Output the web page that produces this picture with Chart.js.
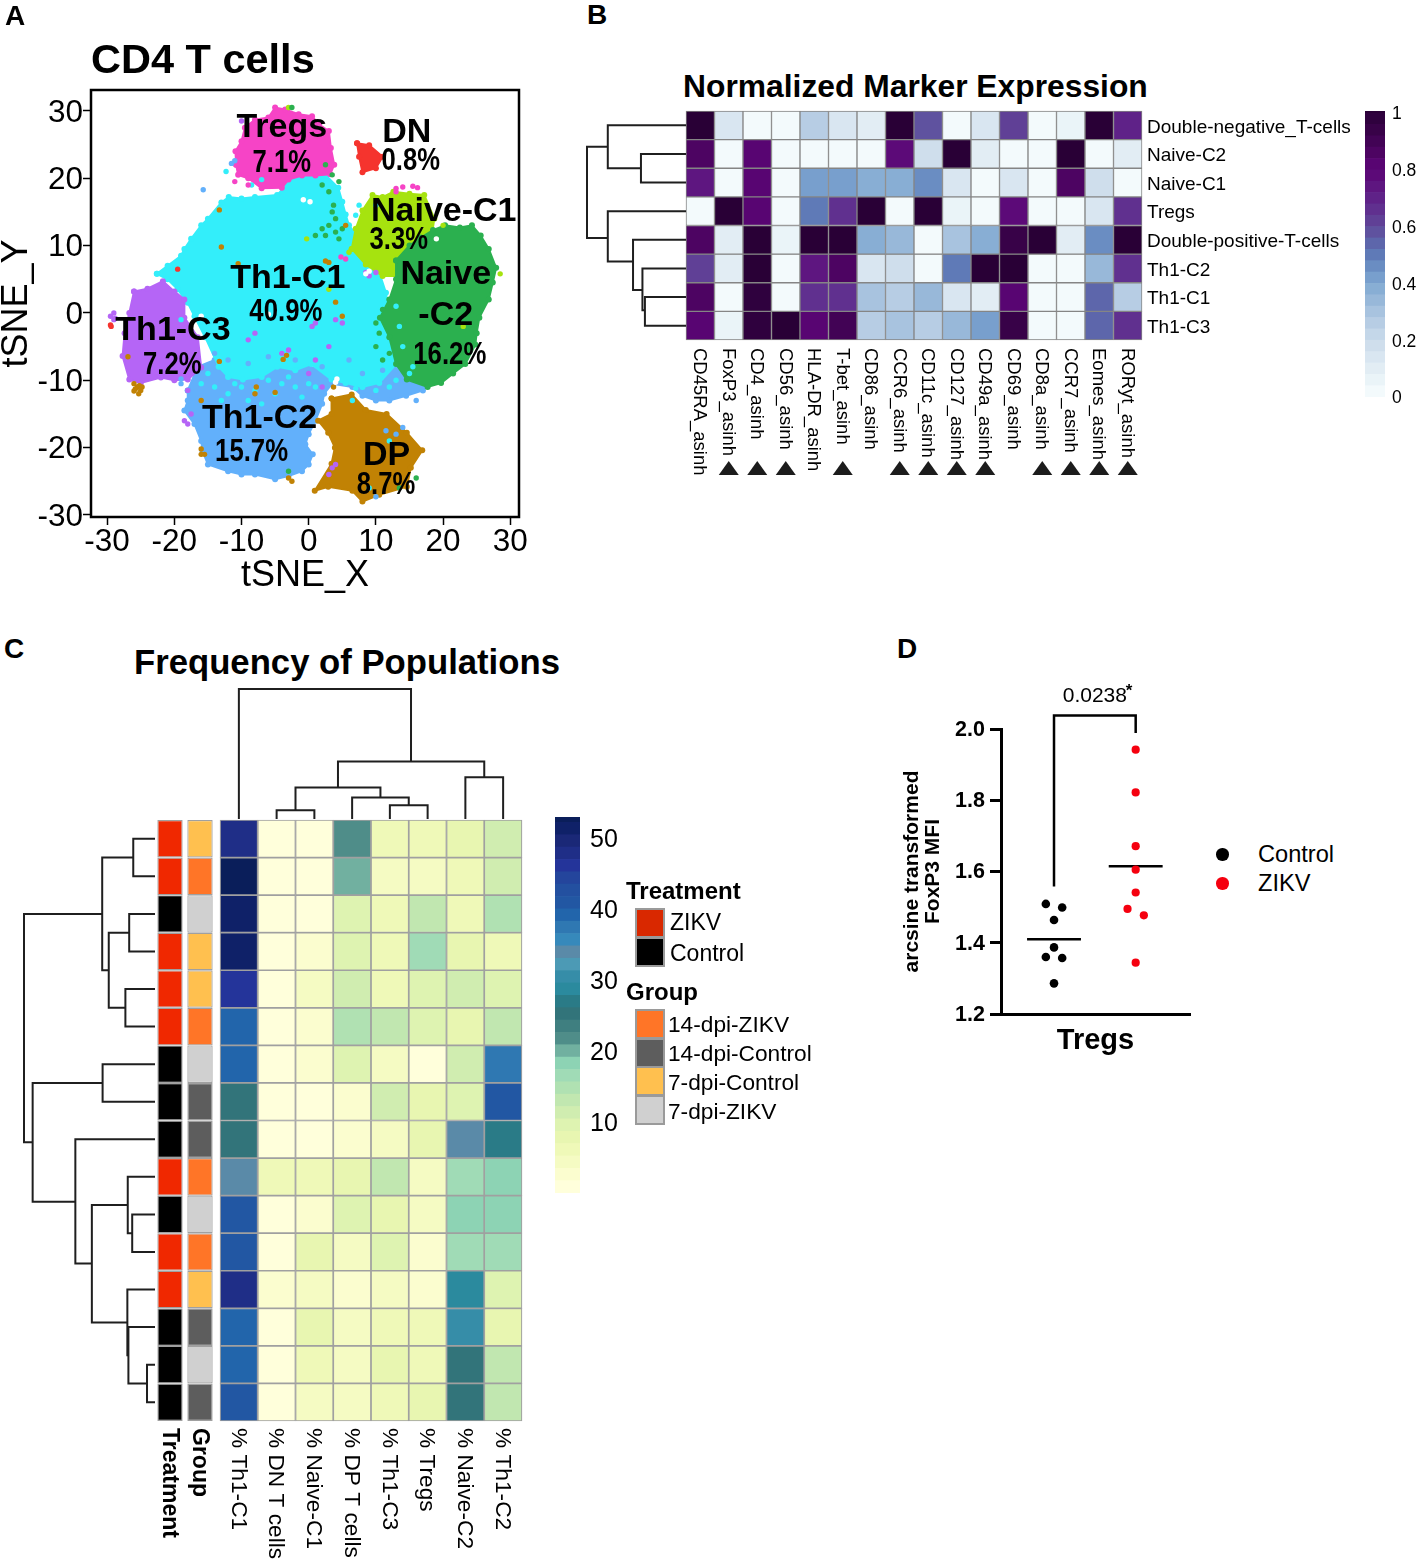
<!DOCTYPE html>
<html>
<head>
<meta charset="utf-8">
<title>CD4 T cells</title>
<script src="https://cdn.jsdelivr.net/npm/chart.js@4/dist/chart.umd.min.js"></script>
<style>
  html, body { margin: 0; background: #fff; }
  #page { position: relative; width: 1417px; height: 1559px; overflow: hidden; font-family: "Liberation Sans", Arial, sans-serif; color: #000; }
  .txt { position: absolute; white-space: nowrap; line-height: 1; transform: translateY(-50%); }
  .swatch { position: absolute; box-sizing: border-box; border: 2px solid #9a9a9a; }
  .dot { position: absolute; border-radius: 50%; }
</style>
</head>
<body>
<div id="page"></div>
<script>
/* ---------- Panel A: tSNE clusters (outlines and stray cells) ---------- */
const tsneTicks = [-30, -20, -10, 0, 10, 20, 30];
const blueOutline = [[-18,-11.5],[-16.5,-8],[-14,-7],[-5,-7],[5,-9],[12,-7],[15.5,-7],[18,-10],[17,-11.5],[14.5,-12.3],[12,-13],[10,-13],[8,-12.3],[6.5,-11],[3.5,-10.5],[2.3,-12],[2,-13.5],[1,-16],[0,-18],[-0.5,-19.5],[0.6,-21],[0,-22.5],[-1,-23.5],[-3,-24.2],[-5,-24.7],[-8,-24],[-10,-24],[-12,-23.5],[-15,-22.5],[-15.8,-20.5],[-16,-19],[-17,-16.5],[-18.5,-14.5],[-18,-13]];
const cyanOutline = [[-22.6,5.8],[-21,7],[-19,8.5],[-18.5,9.5],[-17.5,11],[-16,13],[-15,14],[-13,16.4],[-11.9,17.2],[-10,17],[-8,17.2],[-4.7,17.5],[-3.8,18.5],[-3.2,19.8],[-1,20.2],[2.4,20.6],[4.4,18.6],[5,16.5],[5.5,14.6],[6,13],[7.5,11],[8.5,9],[10.5,6],[11.5,3],[12,-1],[12,-3],[13,-7.6],[10.5,-10.4],[8,-11],[5.5,-10.4],[3.4,-9.9],[0.4,-7.6],[-2,-8.5],[-4.7,-8],[-7,-9.5],[-9.8,-9.9],[-12,-9.5],[-13.4,-8],[-15.4,-3.6],[-17,-0.5],[-18,1.5],[-19.5,3.5],[-21,5]];
const purpleOutline = [[-26,3.2],[-24,3.6],[-21.7,4.7],[-20,3.2],[-18.5,2],[-18.5,-0.7],[-16.5,-3.6],[-16,-8.1],[-18,-9.9],[-20,-10],[-22,-9.6],[-25,-10.4],[-26.7,-9.9],[-27.7,-6.4],[-27.4,-3],[-26.7,0]];
const limeOutline = [[6.4,9.5],[7,12.5],[8,15.2],[9.5,17.5],[11,17.2],[12.6,18],[15,17.7],[17.2,17.5],[18.7,14],[18,9.5],[14,5.5],[11,5.5],[8.5,7.2]];
const greenOutline = [[13,7.8],[15,10],[16.7,11.2],[18.5,12.3],[20.3,13],[22.5,12.7],[24.3,13],[25.6,11.5],[26.8,9.5],[27.9,6.7],[27.4,4.5],[26.8,2],[25.4,-0.7],[25,-3],[24.8,-4.7],[23.3,-7.6],[21.5,-9],[19.7,-10.4],[17.7,-11],[14.6,-9.9],[13,-7.6],[12,-3.6],[10.6,-0.7],[12,2],[13,5]];
const pinkOutline = [[-10.8,22],[-10.9,24],[-10,25.5],[-9.5,27.5],[-8,28.7],[-6,29],[-5,30.5],[-3.5,30.2],[-1.5,29.5],[0.5,29.2],[1.5,28],[3,27],[3.3,24.5],[3.8,22],[3.2,20.6],[1,20.4],[-1,20.4],[-3,19.8],[-4,18.6],[-7,18.5],[-9,20],[-10.5,20.5]];
const redOutline = [[7.2,25.2],[9,24.9],[11,23.2],[10,21.5],[8,20.9],[7.5,23.2]];
const brownOutline = [[3.4,-12.7],[6.4,-12.1],[8.5,-14.4],[11.6,-15],[14.6,-17.8],[16.9,-20.4],[15.2,-23],[14.6,-25.8],[10.5,-27],[8,-28],[6.5,-26.4],[2.9,-25.8],[0.9,-26.4],[3.4,-22.4],[3.9,-20],[2.9,-17.8],[1.4,-16],[3.4,-15]];
const brownStrays = [[-25.5,-11],[-25,-11.5],[-25.8,-11.3],[-25.2,-10.8],[-26,-10.5],[-25.3,-12],[-26,-11.6],[-24.8,-11],[-13,9.8],[-13.3,15.3],[-10.5,7.3],[-13.3,-7.2],[-3.8,-6.9],[-3.3,-6.3],[-5,-11.8],[-7.8,-11],[-8,-12],[-16,-20.2],[-15.5,-21],[-16,-21],[-2.5,-25],[-3,-24.5],[2.5,7.7],[3,7.5],[4,1.6],[5,-0.5],[5.5,13],[3.7,-11],[-16,-13],[-26.9,-6.5]];
const greenStrays = [[2.5,22],[3.5,20.5],[4.5,19.5],[3,18],[2,19],[3.5,15],[3,13],[2,12.5],[2.5,11.5],[4,12],[4.5,11],[4,14],[3.7,16],[1,11.5],[5,12.5],[-3,-23.5],[16,-24.5],[13.5,-26],[-2.5,30.5],[10,-5],[11,-7],[10.5,-3],[11,0.5],[10,-1.5],[12,-6]];
const pinkStrays = [[13,18.5],[14,18.7],[15.5,18.8],[16.2,18.6],[13,18],[4.8,8.3],[5.5,8],[-11,19.5],[-9,19]];
const purpleStrays = [[-29.5,-0.5],[-28.8,-0.8],[-29,0],[-29,-1],[4,-1],[5,-1.5],[0.5,-2],[1,-1.5],[-8,-3],[-9,-4],[-4,-6],[1,-7],[0,-9],[2,-11],[-18,-11.5],[-18.5,-16],[-17.5,-15],[-18,-16.5],[3,-24],[3.5,-23],[4,-22.5],[9,5.5],[10,6],[8.5,6],[-10,28.5],[3,-5],[-3,-5.5]];
const redStrays = [[-29.5,-1.8],[-29.4,-2],[-19.5,6.5]];
const blueStrays = [[-15.7,18.3],[-11.5,22.2],[-11,22.6],[14,-17],[13,-18],[11.5,-17.5],[16,-13],[-19,-9.8],[-19,-10.5],[10,-27.3],[6,-7],[-14,-6],[-12,-7],[-9,-7.5],[-6,-6.5],[-2,-7],[2,-8],[8,-9],[11,-8.5]];
const cyanStrays = [[-12.3,21],[-8.5,19],[-7,19.8],[7,14.5],[7.5,16],[10,16],[6.5,-13],[12,-19],[9,-26],[-12,-12],[-10,-11],[-8,-11.5],[-6,-10],[-4,-10.5],[-2,-11],[0,-10.5],[-14,-11],[-15,-9],[-16,-10.5],[-11,-10.5],[-9,-13],[-5,-12],[-1,-12.5],[-13,-13],[1,-11],[-3,-9.5],[-7,-13.5],[7,-11.2],[10,-11.5],[13,-10],[15,-9],[12,-11],[13,1],[13.5,-2],[14,-5],[15.5,-8],[-19,-1]];
const limeStrays = [[28.5,5.8],[-0.3,11],[3,3.5],[-3,30.5],[23,-2],[6,9],[20,13]];
const holeStrays = [[-0.8,16.8],[0.2,16.5],[19,11],[9,6.2],[8.5,5.8],[-16,-0.5],[-6,-0.2],[4.2,-9.8],[4,-10.3]];

const clusterNames = ["Tregs", "DN", "Naive-C1", "Naive", "-C2", "Th1-C1", "Th1-C3", "Th1-C2", "DP"];
const clusterNameAt = [[-4,27.6],[14.6,26.9],[20.1,15.2],[20.4,5.8],[20.4,-0.3],[-3.1,5.3],[-20.2,-2.5],[-7.3,-15.6],[11.6,-21.1]];
const clusterPct = ["7.1%", "0.8%", "3.3%", "16.2%", "40.9%", "7.2%", "15.7%", "8.7%"];
const clusterPctAt = [[-4,22.4],[15.2,22.7],[13.4,10.9],[21,-6.2],[-3.4,0.15],[-20.3,-7.7],[-8.5,-20.6],[11.5,-25.4]];

/* ---------- Panel B: normalized marker expression ---------- */
const markers = ["CD45RA_asinh","FoxP3_asinh","CD4_asinh","CD56_asinh","HLA-DR_asinh","T-bet_asinh","CD86_asinh","CCR6_asinh","CD11c_asinh","CD127_asinh","CD49a_asinh","CD69_asinh","CD8a_asinh","CCR7_asinh","Eomes_asinh","RORyt_asinh"];
const markedMarkers = ["FoxP3_asinh","CD4_asinh","CD56_asinh","T-bet_asinh","CCR6_asinh","CD11c_asinh","CD127_asinh","CD49a_asinh","CD8a_asinh","CCR7_asinh","Eomes_asinh","RORyt_asinh"];
const populations = ["Double-negative_T-cells","Naive-C2","Naive-C1","Tregs","Double-positive-T-cells","Th1-C2","Th1-C1","Th1-C3"];
const expression = [
  [1,.14,.01,.02,.24,.14,.1,1,.58,.02,.13,.62,.02,.05,1,.7],
  [.84,.01,.8,.01,.01,.01,.01,.78,.18,1,.1,.01,.01,1,.01,.1],
  [.72,.01,.8,.02,.4,.4,.38,.36,.46,.12,.02,.12,.02,.84,.18,.02],
  [.01,1,.82,.02,.5,.66,1,.01,1,.05,.02,.76,.02,.02,.12,.64],
  [.84,.07,1,.06,1,1,.38,.34,.01,.3,.36,.92,1,.1,.44,1],
  [.6,.07,1,.02,.72,.84,.14,.18,.02,.5,1,1,.02,.02,.34,.66],
  [.84,.01,.96,.01,.66,.66,.3,.24,.32,.13,.09,.8,.02,.02,.54,.26],
  [.8,.03,.96,1,.8,.88,.26,.28,.24,.32,.42,.94,.02,.02,.54,.64]
];
const expressionPalette = ["#f3fafc","#eaf4f8","#e2edf4","#d9e6f1","#cfdeec","#c4d7e9","#b7cde4","#a8c3df","#98b8d9","#88aed4","#789fcd","#6a8dc2","#5f7ab7","#5d66ab","#5f529f","#604096","#60308f","#5f2288","#5e1680","#5c0a78","#580572","#4d0462","#420355","#380248","#2f013e","#290036"];
const expressionStep = 0.04;
const expressionTicks = [0, 0.2, 0.4, 0.6, 0.8, 1];
// merge: [height, row a, height of a, row b, height of b]
const markerDendro = [[.415,6,0,7,0],[.44,5,0,6.46,.415],[.535,4,0,5.75,.44],[.79,3,0,4.76,.535],[.455,1,0,2,0],[.79,0,0,1.5,.455],[1,.75,.79,3.94,.79]];

/* ---------- Panel C: frequency of populations ---------- */
const freqColumns = ["% Th1-C1","% DN T cells","% Naive-C1","% DP T cells","% Th1-C3","% Tregs","% Naive-C2","% Th1-C2"];
const frequency = [
  [47.9,.8,.8,21.8,6,6,7.8,11.3],
  [53,.8,.8,20,4.4,4.4,6,11.3],
  [51,.8,.8,9.5,6,13,6,14.8],
  [51,.8,2.6,9.5,6,16.5,7.8,6],
  [46,.8,4.4,11.3,6,9.5,11.3,9.5],
  [39,.8,2.6,14.8,13,9.5,7.8,13],
  [39,.8,2.6,9.5,4.4,.8,11.3,37],
  [25,.8,.8,2.6,11.3,7.8,9.5,41],
  [25,.8,.8,2.6,4.4,7.8,33.5,26.5],
  [33.5,6,6,7.8,13,4.4,16.5,18.2],
  [41,.8,2.6,9.5,7.8,4.4,18.2,18.2],
  [41,.8,7.8,4.4,9.5,2.6,16.5,16.5],
  [47.9,2.6,4.4,2.6,4.4,2.6,29,9.5],
  [39,.8,7.8,4.4,6,6,30,7.8],
  [39,.8,6,4.4,7.8,6,25,13],
  [41,.8,4.4,4.4,6,7.8,25,13]
];
const freqPalette = ["#ffffdb","#fbfdcf","#f5fbc3","#eff9b8","#e8f6b1","#def3b1","#d0edb0","#c1e7b0","#b0e1b2","#a0dbb6","#8dd3b4","#71b0a0","#4f8d89","#3f7f80","#32747a","#2a7b87","#2b8a9e","#368da8","#4c9ab5","#5a8aa8","#3689bb","#2f78b2","#2265ab","#2257a3","#2350a0","#24459c","#24349a","#1f2e87","#1a2877","#0f2168","#0a1e5a"];
const freqStep = 1.74;
const freqTicks = [10, 20, 30, 40, 50];
const treatmentColors = { ZIKV: "#f02800", Control: "#000000" };
const groupColors = { "14-dpi-ZIKV": "#ff7527", "14-dpi-Control": "#5d5d5d", "7-dpi-Control": "#ffc04f", "7-dpi-ZIKV": "#d0d0d0" };
const treatmentRows = ["ZIKV","ZIKV","Control","ZIKV","ZIKV","ZIKV","Control","Control","Control","ZIKV","Control","ZIKV","ZIKV","Control","Control","Control"];
const groupRows = ["7-dpi-Control","14-dpi-ZIKV","7-dpi-ZIKV","7-dpi-Control","7-dpi-Control","14-dpi-ZIKV","7-dpi-ZIKV","14-dpi-Control","14-dpi-Control","14-dpi-ZIKV","7-dpi-ZIKV","14-dpi-ZIKV","7-dpi-Control","14-dpi-Control","7-dpi-ZIKV","14-dpi-Control"];
const columnDendro = [[.0665,1,0,2,0],[.105,4,0,5,0],[.166,3,0,4.5,.105],[.243,1.5,.0665,3.75,.166],[.322,6,0,7,0],[.442,2.625,.243,6.5,.322],[1,0,0,4.56,.442]];
const rowDendro = [[.166,0,0,1,0],[.197,2,0,3,0],[.226,4,0,5,0],[.353,2.5,.197,4.5,.226],[.403,.5,.166,3.5,.353],[.4,6,0,7,0],[.174,10,0,11,0],[.208,9,0,10.5,.174],[.061,14,0,15,0],[.203,13,0,14.5,.061],[.211,12,0,13.75,.203],[.482,9.75,.208,12.875,.211],[.608,8,0,11.31,.482],[.934,6.5,.4,9.66,.608],[1,2,.403,8.08,.934]];

/* ---------- Panel D: FoxP3 MFI in Tregs ---------- */
const controlX = [.9,1.1,1,1,.9,1.1,1];
const controlMfi = [1.509,1.499,1.464,1.387,1.360,1.357,1.286];
const zikvX = [2,2,2,2,2,1.9,2.1,2];
const zikvMfi = [1.942,1.822,1.671,1.605,1.541,1.495,1.477,1.344];
const controlMean = 1.41;
const zikvMean = 1.615;
const mfiTicks = [1.2, 1.4, 1.6, 1.8, 2.0];
const pValue = "0.0238";

/* ---------- helpers ---------- */
const FONT = '"Liberation Sans", Arial, sans-serif';
Chart.defaults.font.family = FONT;
Chart.defaults.color = "#000";
Chart.defaults.animation = false;
Chart.defaults.plugins.legend.display = false;
Chart.defaults.plugins.tooltip.enabled = false;

const page = document.getElementById("page");

function addCanvas(x, y, w, h) {
    const c = document.createElement("canvas");
    c.width = w;
    c.height = h;
    c.style.cssText = `position:absolute;left:${x}px;top:${y}px;width:${w}px;height:${h}px`;
    page.appendChild(c);
    return c;
}

function text(x, y, str, size, bold) {
    const d = document.createElement("div");
    d.className = "txt";
    d.textContent = str;
    d.style.cssText = `left:${x}px;top:${y}px;font-size:${size}px;font-weight:${bold ? "bold" : "normal"}`;
    page.appendChild(d);
}

function swatch(x, y, w, h, color) {
    const d = document.createElement("div");
    d.className = "swatch";
    d.style.cssText = `left:${x}px;top:${y}px;width:${w}px;height:${h}px;background:${color}`;
    page.appendChild(d);
}

function pts(list) {
    return list.map(p => ({ x: p[0], y: p[1] }));
}

// one dataset per row, every cell is one unit tall and painted from its value
function heatDatasets(matrix, colorOf, edge, lineWidth) {
    return matrix.map(row => ({
        data: row.map(() => 1),
        backgroundColor: row.map(colorOf),
        borderColor: edge,
        borderWidth: lineWidth,
        borderSkipped: false,
        barPercentage: 1,
        categoryPercentage: 1,
        clip: false
    }));
}

function rotatedLabels(labels, gap, size, weight) {
    return {
        id: "rotatedLabels",
        afterDraw(chart) {
            const ctx = chart.ctx;
            const s = chart.scales.x;
            labels.forEach((t, i) => {
                ctx.save();
                ctx.translate(s.getPixelForValue(i) - 1, chart.chartArea.bottom + gap);
                ctx.rotate(Math.PI / 2);
                ctx.font = `${weight} ${size}px ${FONT}`;
                ctx.fillStyle = "#000";
                ctx.textAlign = "left";
                ctx.textBaseline = "middle";
                ctx.fillText(t, 0, 0);
                ctx.restore();
            });
        }
    };
}

function heatChart(canvas, padding, labels, datasets, rows, extra) {
    return new Chart(canvas, {
        type: "bar",
        data: { labels: labels, datasets: datasets },
        options: {
            responsive: false,
            layout: { autoPadding: false, padding: padding },
            scales: {
                x: { stacked: true, display: false },
                y: { stacked: true, display: false, reverse: true, min: 0, max: rows }
            }
        },
        plugins: extra
    });
}

function dendroChart(canvas, pad, merges, count, leftSide) {
    const lo = -0.5, hi = count - 0.5;
    const datasets = merges.map(m => {
        const path = [[m[2], m[1]], [m[0], m[1]], [m[0], m[3]], [m[4], m[3]]];
        return {
            data: path.map(p => leftSide ? { x: p[0], y: p[1] } : { x: p[1], y: p[0] }),
            showLine: true,
            borderColor: "#1f1f1f",
            borderWidth: 2,
            pointRadius: 0,
            tension: 0,
            clip: false
        };
    });
    return new Chart(canvas, {
        type: "scatter",
        data: { datasets: datasets },
        options: {
            responsive: false,
            layout: { autoPadding: false, padding: pad },
            scales: leftSide ? {
                x: { type: "linear", display: false, min: 0, max: 1, reverse: true },
                y: { type: "linear", display: false, min: lo, max: hi, reverse: true }
            } : {
                x: { type: "linear", display: false, min: lo, max: hi },
                y: { type: "linear", display: false, min: 0, max: 1 }
            }
        }
    });
}

function colorBar(canvas, padLeft, palette, step, top, ticks, fontSize, axisWidth, tickPad, labelShift) {
    const datasets = palette.map((c, i) => ({
        data: [[i * step, (i + 1) * step]],
        backgroundColor: c,
        borderWidth: 0,
        barPercentage: 1,
        categoryPercentage: 1
    }));
    return new Chart(canvas, {
        type: "bar",
        data: { labels: [""], datasets: datasets },
        options: {
            responsive: false,
            layout: { autoPadding: false, padding: { left: padLeft, top: 30, bottom: 30 } },
            scales: {
                x: { stacked: true, display: false },
                y: {
                    position: "right", min: 0, max: top,
                    afterFit(a) { a.width = axisWidth; },
                    afterBuildTicks(a) { a.ticks = ticks.map(v => ({ value: v })); },
                    grid: { display: false, drawTicks: false },
                    border: { display: false },
                    ticks: { font: { size: fontSize }, padding: tickPad, labelOffset: labelShift, callback: v => String(v) }
                }
            }
        }
    });
}

/* ---------- Panel A ---------- */
const clusterLayers = [
    { outline: blueOutline, color: "#62b0fb" },
    { outline: cyanOutline, color: "#33eefa" },
    { outline: purpleOutline, color: "#b565f6" },
    { outline: limeOutline, color: "#a6e30f" },
    { outline: greenOutline, color: "#2bb04f" },
    { outline: pinkOutline, color: "#f644c6" },
    { outline: redOutline, color: "#f5342e" },
    { outline: brownOutline, color: "#c18204" }
];
const strayLayers = [
    { list: cyanStrays, color: "#33eefa" },
    { list: blueStrays, color: "#62b0fb" },
    { list: limeStrays, color: "#a6e30f" },
    { list: greenStrays, color: "#2bb04f" },
    { list: pinkStrays, color: "#f644c6" },
    { list: purpleStrays, color: "#b565f6" },
    { list: brownStrays, color: "#c18204" },
    { list: redStrays, color: "#f5342e" },
    { list: holeStrays, color: "#ffffff" }
];
// order: higher number is painted first
const tsneDatasets = clusterLayers.map((l, i) => ({
    data: pts(l.outline.concat([l.outline[0]])),
    showLine: true,
    fill: "shape",
    tension: 0,
    backgroundColor: l.color,
    borderColor: l.color,
    borderWidth: 2,
    pointBackgroundColor: l.color,
    pointBorderWidth: 0,
    pointRadius: 3,
    order: 100 - i
})).concat(strayLayers.map((l, i) => ({
    data: pts(l.list),
    backgroundColor: l.color,
    pointBorderWidth: 0,
    pointRadius: 2.7,
    order: 50 - i
})));

const clusterLabels = {
    id: "clusterLabels",
    afterDatasetsDraw(chart) {
        const { ctx, chartArea: a, scales: { x, y } } = chart;
        ctx.save();
        ctx.strokeStyle = "#000";
        ctx.lineWidth = 2.5;
        ctx.strokeRect(a.left, a.top, a.right - a.left, a.bottom - a.top);
        ctx.fillStyle = "#000";
        ctx.textAlign = "center";
        ctx.textBaseline = "middle";
        ctx.font = `bold 34px ${FONT}`;
        clusterNames.forEach((t, i) => {
            ctx.fillText(t, x.getPixelForValue(clusterNameAt[i][0]), y.getPixelForValue(clusterNameAt[i][1]) + 1);
        });
        ctx.font = `bold 31px ${FONT}`;
        clusterPct.forEach((t, i) => {
            // the percentages are squeezed horizontally in the figure
            ctx.fillText(t, x.getPixelForValue(clusterPctAt[i][0]), y.getPixelForValue(clusterPctAt[i][1]) + 1, t.length * 14.6);
        });
        ctx.restore();
    }
};

new Chart(addCanvas(-5, 0, 555, 600), {
    type: "scatter",
    data: { datasets: tsneDatasets },
    options: {
        responsive: false,
        layout: { autoPadding: false, padding: { right: 31 } },
        plugins: {
            title: {
                display: true, text: "CD4 T cells", align: "start", fullSize: false,
                font: { size: 41.5, weight: "bold" }, color: "#000",
                padding: { top: 37, bottom: 3.2 }
            }
        },
        scales: {
            x: {
                type: "linear", min: -32.4, max: 31.3,
                afterFit(a) { a.height = 83; },
                afterBuildTicks(a) { a.ticks = tsneTicks.map(v => ({ value: v })); },
                grid: { drawOnChartArea: false, tickLength: 8, tickColor: "#000", tickWidth: 1.5 },
                border: { color: "#000", width: 1 },
                ticks: { font: { size: 31.5 }, padding: -2, maxRotation: 0, autoSkip: false, callback: v => String(v) },
                title: { display: true, text: "tSNE_X", font: { size: 36 }, padding: { top: 0, bottom: 2 } }
            },
            y: {
                type: "linear", min: -30.3, max: 33.1,
                afterFit(a) { a.width = 96; },
                afterBuildTicks(a) { a.ticks = tsneTicks.map(v => ({ value: v })); },
                grid: { drawOnChartArea: false, tickLength: 8, tickColor: "#000", tickWidth: 1.5 },
                border: { color: "#000", width: 1 },
                ticks: { font: { size: 31.5 }, padding: 0, labelOffset: 2, autoSkip: false, callback: v => String(v) },
                title: { display: true, text: "tSNE_Y", font: { size: 36 }, padding: { top: 0, bottom: 0 } }
            }
        }
    },
    plugins: [clusterLabels]
});

/* ---------- Panel B ---------- */
const expressionColor = v => expressionPalette[Math.min(Math.floor(v / expressionStep + 0.3), expressionPalette.length - 1)];

const populationLabels = {
    id: "populationLabels",
    afterDraw(chart) {
        const { ctx, chartArea: a, scales: { x, y } } = chart;
        ctx.save();
        ctx.fillStyle = "#000";
        ctx.font = `19px ${FONT}`;
        ctx.textAlign = "left";
        ctx.textBaseline = "middle";
        populations.forEach((t, i) => ctx.fillText(t, a.right + 5, y.getPixelForValue(i + 0.5) + 2));
        ctx.fillStyle = "#1c1c1c";
        markedMarkers.forEach(m => {
            const px = x.getPixelForValue(markers.indexOf(m));
            ctx.beginPath();
            ctx.moveTo(px - 10, a.bottom + 135);
            ctx.lineTo(px + 10, a.bottom + 135);
            ctx.lineTo(px, a.bottom + 121);
            ctx.closePath();
            ctx.fill();
        });
        ctx.restore();
    }
};

heatChart(
    addCanvas(680, 105, 680, 375),
    { left: 6, top: 6, right: 218, bottom: 140 },
    markers,
    heatDatasets(expression, expressionColor, "#858585", 1),
    populations.length,
    [rotatedLabels(markers, 8, 18.5, "normal"), populationLabels]
);
text(683, 87, "Normalized Marker Expression", 31.8, true);
dendroChart(addCanvas(584, 108, 102, 235), { left: 3, top: 3, bottom: 3 }, markerDendro, populations.length, true);
colorBar(addCanvas(1350, 81, 67, 346), 15, expressionPalette, expressionStep, 1.007, expressionTicks, 17.5, 32, 7, 1.5);

/* ---------- Panel C ---------- */
const freqColor = v => freqPalette[Math.min(Math.floor(v / freqStep), freqPalette.length - 1)];

heatChart(
    addCanvas(216, 816, 310, 743),
    { left: 4, right: 4, top: 4, bottom: 138 },
    freqColumns,
    heatDatasets(frequency, freqColor, "#a0a0a0", 1.2),
    frequency.length,
    [rotatedLabels(freqColumns, 7, 22.7, "normal")]
);

// Treatment / Group annotation strips: two columns of the same kind of stacked cells
const annotationLabels = ["Treatment", "Group"];
const annotationRows = treatmentRows.map((t, i) => [treatmentColors[t], groupColors[groupRows[i]]]);
heatChart(
    addCanvas(151, 816, 68, 743),
    { left: 4, right: 4, top: 4, bottom: 138 },
    annotationLabels,
    annotationRows.map(r => ({
        data: [1, 1],
        backgroundColor: r,
        borderColor: "#a0a0a0",
        borderWidth: 1.2,
        borderSkipped: false,
        barPercentage: 0.845,
        categoryPercentage: 1,
        clip: false
    })),
    frequency.length,
    [rotatedLabels(annotationLabels, 7, 23, "bold")]
);

dendroChart(addCanvas(219, 685, 304, 134), { left: 1, right: 1, top: 4 }, columnDendro, freqColumns.length, false);
dendroChart(addCanvas(21, 817, 134, 607), { left: 3, top: 3, bottom: 3 }, rowDendro, frequency.length, true);
colorBar(addCanvas(545, 787, 90, 436), 10, freqPalette, freqStep, 52.95, freqTicks, 25, 55, 10, 2.5);

text(134, 662, "Frequency of Populations", 34.7, true);

text(626, 891, "Treatment", 24, true);
swatch(635, 908, 30, 30, "#d92800");
swatch(635, 937, 30, 30, "#000000");
text(670, 922, "ZIKV", 23);
text(670, 953, "Control", 23);
text(626, 992, "Group", 24, true);
Object.keys(groupColors).forEach((g, i) => {
    swatch(635, 1009 + i * 28.7, 30, 30, groupColors[g]);
    text(668, 1024 + i * 29, g, 22.7);
});

/* ---------- Panel D ---------- */
const mfiNotes = {
    id: "mfiNotes",
    afterDraw(chart) {
        const { ctx, scales: { x, y } } = chart;
        const cx = x.getPixelForValue(1.5);
        const cy = y.getPixelForValue(2.092);
        ctx.save();
        ctx.fillStyle = "#000";
        ctx.font = `21px ${FONT}`;
        ctx.textAlign = "center";
        ctx.textBaseline = "middle";
        ctx.fillText(pValue, cx, cy);
        ctx.font = `bold 17px ${FONT}`;
        ctx.textAlign = "left";
        ctx.fillText("*", cx + 31, cy - 5);
        ctx.restore();
    }
};

new Chart(addCanvas(885, 680, 315, 380), {
    type: "scatter",
    data: {
        datasets: [
            { data: controlMfi.map((v, i) => ({ x: controlX[i], y: v })), backgroundColor: "#000", pointRadius: 4.3, pointBorderWidth: 0 },
            { data: zikvMfi.map((v, i) => ({ x: zikvX[i], y: v })), backgroundColor: "#f5000f", pointRadius: 4.1, pointBorderWidth: 0 },
            { data: [{ x: 0.67, y: controlMean }, { x: 1.33, y: controlMean }], showLine: true, borderColor: "#000", borderWidth: 2.5, pointRadius: 0 },
            { data: [{ x: 1.67, y: zikvMean }, { x: 2.33, y: zikvMean }], showLine: true, borderColor: "#000", borderWidth: 2.5, pointRadius: 0 },
            { data: [{ x: 1, y: 1.558 }, { x: 1, y: 2.038 }, { x: 2, y: 2.038 }, { x: 2, y: 1.989 }], showLine: true, borderColor: "#000", borderWidth: 2.5, pointRadius: 0, clip: false }
        ]
    },
    options: {
        responsive: false,
        layout: { autoPadding: false, padding: { right: 10, top: 49 } },
        scales: {
            x: {
                type: "linear", min: 0.351, max: 2.665,
                afterFit(a) { a.height = 46; },
                grid: { display: false },
                border: { color: "#000", width: 3 },
                ticks: { display: false },
                title: { display: true, text: "Tregs", font: { size: 29, weight: "bold" }, padding: { top: 0, bottom: 2 } }
            },
            y: {
                type: "linear", min: 1.2, max: 2.0,
                afterFit(a) { a.width = 116; },
                afterBuildTicks(a) { a.ticks = mfiTicks.map(v => ({ value: v })); },
                grid: { drawOnChartArea: false, tickLength: 11, tickColor: "#000", tickWidth: 3 },
                border: { color: "#000", width: 3 },
                ticks: { font: { size: 21.5, weight: "bold" }, padding: 5, labelOffset: 1, callback: v => v.toFixed(1) },
                title: {
                    display: true, text: ["arcsine transformed", "FoxP3 MFI"],
                    font: { size: 21, weight: "bold", lineHeight: 1.03 }, padding: { top: 16, bottom: 0 }
                }
            }
        }
    },
    plugins: [mfiNotes]
});
[["Control", "#000", 854], ["ZIKV", "#f5000f", 883]].forEach(e => {
    const d = document.createElement("div");
    d.className = "dot";
    d.style.cssText = `left:1216px;top:${e[2] - 6}px;width:12.5px;height:12.5px;background:${e[1]}`;
    page.appendChild(d);
    text(1258, e[2] + 1, e[0], 23.6);
});

/* ---------- panel letters ---------- */
text(5, 16, "A", 28, true);
text(587, 15, "B", 28, true);
text(4, 649, "C", 28, true);
text(897, 649, "D", 28, true);
</script>
</body>
</html>
